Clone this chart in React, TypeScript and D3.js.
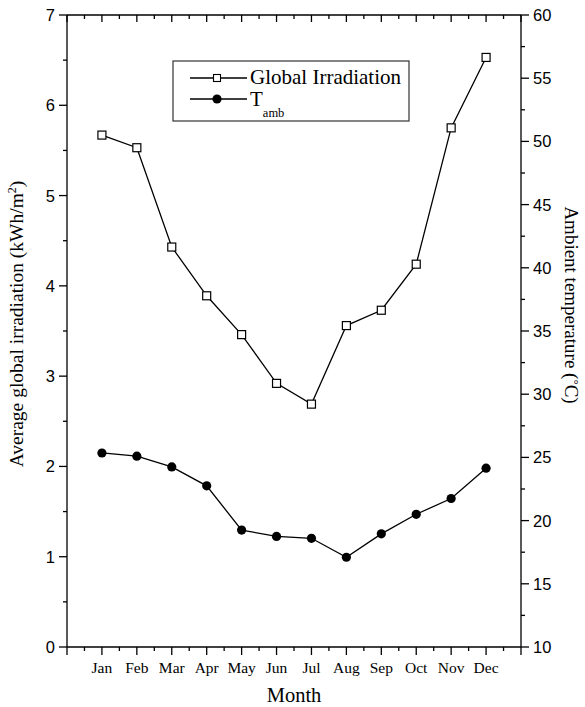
import React from "react";
import * as d3 from "d3";

const months = ["Jan", "Feb", "Mar", "Apr", "May", "Jun", "Jul", "Aug", "Sep", "Oct", "Nov", "Dec"];
const irradiation = [5.67, 5.53, 4.43, 3.89, 3.46, 2.92, 2.69, 3.56, 3.73, 4.24, 5.75, 6.53];
const tAmb = [25.35, 25.1, 24.25, 22.75, 19.25, 18.75, 18.6, 17.1, 18.95, 20.5, 21.75, 24.15];
const leftTicks = [0, 1, 2, 3, 4, 5, 6, 7];
const rightTicks = [10, 15, 20, 25, 30, 35, 40, 45, 50, 55, 60];

const W = 585, H = 707;
const L = 67, R = 521, T = 15, B = 647;

const serif = "'Liberation Serif', 'Times New Roman', serif";
const sans = "'Liberation Sans', Arial, sans-serif";

export default function App() {
  const x = d3.scaleLinear().domain([0, 13]).range([L, R]);
  const yL = d3.scaleLinear().domain([0, 7]).range([B, T]);
  const yR = d3.scaleLinear().domain([10, 60]).range([B, T]);

  const xMajor = d3.range(0, 14);
  const xMinor = d3.range(0.5, 13, 1);
  const yLMinor = d3.range(0.5, 7, 1);
  const yRMinor = d3.range(12.5, 60, 5);

  const lineIrr = d3.line<number>().x((_, i) => x(i + 1)).y((d) => yL(d));
  const lineT = d3.line<number>().x((_, i) => x(i + 1)).y((d) => yR(d));

  const sw = 1.3;
  const sq = 8;

  return (
    <svg width={W} height={H} style={{ position: "absolute", left: 0, top: 0, background: "#fff" }}>
      <rect x={0} y={0} width={W} height={H} fill="#fff" />
      {/* frame */}
      <line x1={L} x2={R} y1={B} y2={B} stroke="#000" strokeWidth={sw} />
      <line x1={L} x2={R} y1={T} y2={T} stroke="#000" strokeWidth={sw} />
      <line x1={L} x2={L} y1={T} y2={B} stroke="#000" strokeWidth={sw} />
      <line x1={R} x2={R} y1={T} y2={B} stroke="#000" strokeWidth={sw} />

      {/* bottom ticks */}
      {xMajor.map((v) => (
        <line key={"bx" + v} x1={x(v)} x2={x(v)} y1={B} y2={B + 8} stroke="#000" strokeWidth={sw} />
      ))}
      {xMinor.map((v) => (
        <line key={"bxm" + v} x1={x(v)} x2={x(v)} y1={B} y2={B + 4} stroke="#000" strokeWidth={sw} />
      ))}
      {/* top ticks (inward) */}
      {xMajor.map((v) => (
        <line key={"tx" + v} x1={x(v)} x2={x(v)} y1={T} y2={T + 7} stroke="#000" strokeWidth={sw} />
      ))}
      {xMinor.map((v) => (
        <line key={"txm" + v} x1={x(v)} x2={x(v)} y1={T} y2={T + 4} stroke="#000" strokeWidth={sw} />
      ))}
      {months.map((m, i) => (
        <text key={m} x={x(i + 1)} y={673} textAnchor="middle" fontFamily={serif} fontSize={15.5}>
          {m}
        </text>
      ))}
      <text x={(L + R) / 2} y={702} textAnchor="middle" fontFamily={serif} fontSize={20.5}>
        Month
      </text>

      {/* left axis */}
      {leftTicks.map((v) => (
        <g key={"ly" + v}>
          <line x1={L - 8} x2={L} y1={yL(v)} y2={yL(v)} stroke="#000" strokeWidth={sw} />
          <text x={L - 12} y={yL(v)} dy="0.36em" textAnchor="end" fontFamily={sans} fontSize={16.5}>
            {v}
          </text>
        </g>
      ))}
      {yLMinor.map((v) => (
        <line key={"lym" + v} x1={L - 4} x2={L} y1={yL(v)} y2={yL(v)} stroke="#000" strokeWidth={sw} />
      ))}
      <text
        transform={`translate(23, 324) rotate(-90)`}
        textAnchor="middle"
        fontFamily={serif}
        fontSize={19.5}
      >
        Average global irradiation (kWh/m<tspan dy="-7" fontSize={12}>2</tspan>
        <tspan dy="7">)</tspan>
      </text>

      {/* right axis */}
      {rightTicks.map((v) => (
        <g key={"ry" + v}>
          <line x1={R} x2={R + 8} y1={yR(v)} y2={yR(v)} stroke="#000" strokeWidth={sw} />
          <text x={R + 12} y={yR(v)} dy="0.36em" textAnchor="start" fontFamily={sans} fontSize={16.5}>
            {v}
          </text>
        </g>
      ))}
      {yRMinor.map((v) => (
        <line key={"rym" + v} x1={R} x2={R + 4} y1={yR(v)} y2={yR(v)} stroke="#000" strokeWidth={sw} />
      ))}
      <text
        transform={`translate(565, 305) rotate(90)`}
        textAnchor="middle"
        fontFamily={serif}
        fontSize={19}
      >
        Ambient temperature (<tspan dy="-5" fontSize={13}>°</tspan>
        <tspan dy="5">C)</tspan>
      </text>

      {/* series */}
      <path d={lineIrr(irradiation) || ""} fill="none" stroke="#000" strokeWidth={sw} />
      <path d={lineT(tAmb) || ""} fill="none" stroke="#000" strokeWidth={sw} />
      {irradiation.map((v, i) => (
        <rect
          key={"sq" + i}
          x={x(i + 1) - sq / 2}
          y={yL(v) - sq / 2}
          width={sq}
          height={sq}
          fill="#fff"
          stroke="#000"
          strokeWidth={1.2}
        />
      ))}
      {tAmb.map((v, i) => (
        <circle key={"c" + i} cx={x(i + 1)} cy={yR(v)} r={4.6} fill="#000" />
      ))}

      {/* legend */}
      <rect x={173} y={61} width={236} height={60} fill="#fff" stroke="#333" strokeWidth={1.2} />
      <line x1={190} x2={247} y1={78} y2={78} stroke="#000" strokeWidth={sw} />
      <rect x={217 - 3.5} y={78 - 3.5} width={7} height={7} fill="#fff" stroke="#000" strokeWidth={1.1} />
      <text x={250} y={84} fontFamily={serif} fontSize={21}>
        Global Irradiation
      </text>
      <line x1={190} x2={247} y1={99} y2={99} stroke="#000" strokeWidth={sw} />
      <circle cx={217} cy={99} r={4.6} fill="#000" />
      <text x={250} y={106} fontFamily={serif} fontSize={21}>
        T<tspan dy="11" fontSize={12.5}>amb</tspan>
      </text>
    </svg>
  );
}
